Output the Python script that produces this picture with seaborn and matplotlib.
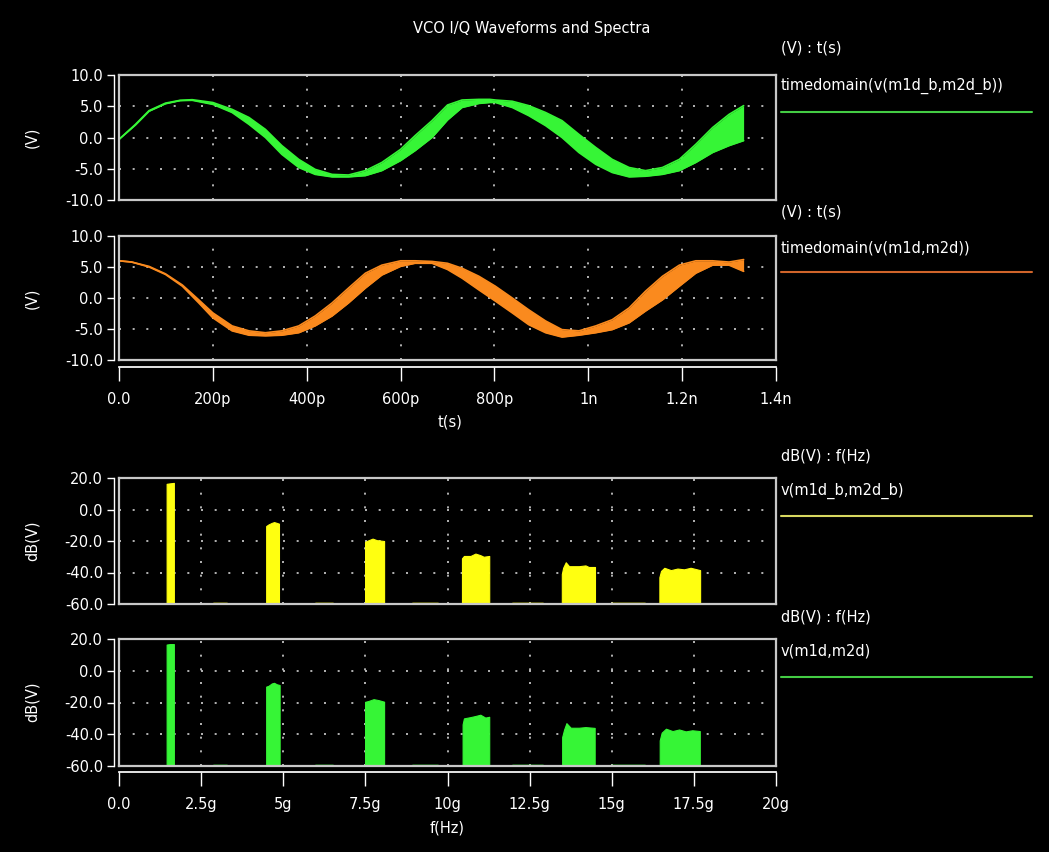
import numpy as np
import matplotlib
matplotlib.use("Agg")
import matplotlib.pyplot as plt
import seaborn as sns

# ---- time-domain traces (ps, V): upper / lower edge of the overlaid band ----
t_ps = [0, 35, 64, 99, 130, 156, 200, 241, 277, 312, 347, 383, 418, 454, 489,
        525, 560, 600, 631, 667, 700, 731, 767, 790, 802, 838, 873, 909, 944,
        980, 1016, 1051, 1087, 1122, 1158, 1194, 1229, 1265, 1300, 1331]
i_hi = [-0.3, 2.1, 4.3, 5.5, 5.95, 6.05, 5.6, 4.5, 3.2, 1.3, -1.3, -3.5, -5.1,
        -5.9, -6.0, -5.3, -4.0, -1.9, 0.3, 2.7, 5.2, 6.0, 6.1, 6.1, 6.0, 5.8,
        5.1, 4.0, 2.7, 0.5, -1.6, -3.5, -4.8, -5.3, -4.8, -3.5, -1.1, 1.6, 3.7, 5.1]
i_lo = [-0.3, 2.0, 4.2, 5.4, 5.9, 5.95, 5.3, 4.0, 2.1, 0.0, -2.7, -4.8, -5.9,
        -6.3, -6.3, -6.1, -5.3, -3.7, -2.1, 0.0, 2.8, 4.8, 5.45, 5.6, 5.6, 4.8,
        3.5, 1.9, 0.0, -2.4, -4.3, -5.6, -6.3, -6.2, -5.9, -5.3, -4.0, -2.4, -1.3, -0.5]

tq_ps = [0, 27, 64, 99, 135, 170, 200, 241, 277, 312, 347, 383, 418, 454, 489,
         525, 560, 600, 631, 667, 700, 731, 767, 802, 838, 873, 909, 944, 980,
         1016, 1051, 1087, 1122, 1158, 1194, 1229, 1265, 1300, 1331]
q_hi = [6.0, 5.8, 5.1, 3.9, 2.1, -0.3, -2.4, -4.5, -5.3, -5.6, -5.3, -4.5, -2.9,
        -0.8, 1.6, 4.0, 5.3, 6.0, 6.0, 5.9, 5.6, 4.8, 3.5, 1.9, 0.0, -1.9, -3.7,
        -5.1, -5.3, -4.5, -3.5, -1.6, 1.1, 3.5, 5.3, 6.0, 6.0, 5.8, 6.2]
q_lo = [6.0, 5.8, 5.0, 3.8, 1.9, -0.8, -3.2, -5.3, -6.0, -6.1, -6.0, -5.6, -4.5,
        -2.9, -0.8, 1.6, 3.7, 5.1, 5.6, 5.6, 4.6, 3.2, 1.3, -0.5, -2.4, -4.3, -5.6,
        -6.3, -6.0, -5.6, -5.1, -4.0, -2.1, -0.3, 1.9, 4.0, 5.3, 5.3, 4.3]

# ---- spectra (GHz, dB): one list per harmonic band ----
yel_f = [[1.45, 1.55, 1.67],
         [4.48, 4.55, 4.65, 4.72, 4.80, 4.87],
         [7.49, 7.60, 7.72, 7.85, 8.07],
         [10.44, 10.50, 10.70, 10.85, 11.00, 11.10, 11.27],
         [13.48, 13.52, 13.60, 13.70, 14.00, 14.20, 14.30, 14.49],
         [16.45, 16.50, 16.60, 16.80, 17.00, 17.20, 17.40, 17.69]]
yel_db = [[16.3, 16.6, 16.9],
          [-10.5, -9.5, -8.5, -8.0, -8.5, -9.0],
          [-20.5, -19.5, -18.5, -19.5, -20.0],
          [-31.0, -29.5, -29.5, -28.0, -29.0, -30.0, -29.5],
          [-41.0, -37.0, -33.5, -36.0, -36.0, -35.5, -36.5, -36.5],
          [-43.0, -39.0, -37.0, -38.5, -37.5, -38.0, -37.0, -38.5]]
grn_f = [[1.45, 1.55, 1.67],
         [4.48, 4.55, 4.65, 4.72, 4.80, 4.89],
         [7.49, 7.60, 7.75, 7.90, 8.07],
         [10.46, 10.50, 10.70, 10.85, 11.00, 11.15, 11.27],
         [13.49, 13.55, 13.62, 13.75, 14.00, 14.20, 14.48],
         [16.46, 16.52, 16.65, 16.85, 17.05, 17.25, 17.45, 17.68]]
grn_db = [[16.5, 16.8, 16.8],
          [-10.0, -9.5, -8.0, -7.6, -8.5, -9.0],
          [-19.6, -19.0, -17.9, -18.5, -19.5],
          [-33.8, -30.0, -29.2, -28.5, -27.7, -29.5, -29.0],
          [-41.8, -37.0, -33.0, -35.9, -35.9, -35.5, -36.0],
          [-43.9, -39.0, -36.5, -38.0, -37.0, -38.2, -37.5, -38.0]]
floor_f = [(2.9, 3.3), (6.0, 6.5), (8.95, 9.7), (12.0, 12.9), (15.0, 16.0)]

time_ticks = [0, 200, 400, 600, 800, 1000, 1200, 1400]
time_labels = ["0.0", "200p", "400p", "600p", "800p", "1n", "1.2n", "1.4n"]
freq_ticks = [0, 2.5, 5, 7.5, 10, 12.5, 15, 17.5, 20]
freq_labels = ["0.0", "2.5g", "5g", "7.5g", "10g", "12.5g", "15g", "17.5g", "20g"]
v_ticks = [-10, -5, 0, 5, 10]
db_ticks = [-60, -40, -20, 0, 20]

GREEN = "#36f536"
ORANGE = "#fa8a1e"
YELLOW = "#ffff10"
W, H = 1049, 852

sns.set_theme(style="dark", rc={"figure.facecolor": "black", "axes.facecolor": "black",
                                "text.color": "white", "savefig.facecolor": "black"})
plt.rcParams["font.family"] = ["DejaVu Sans"]
FS = 10.5

fig = plt.figure(figsize=(W / 100, H / 100), dpi=100)


def box(left, top, right, bottom):
    return [left / W, 1 - bottom / H, (right - left) / W, (bottom - top) / H]


def frame(ax, xlim, ylim, xgrid, ygrid, yticks, ylabels):
    ax.set_xlim(*xlim)
    ax.set_ylim(*ylim)
    ax.set_xticks(xgrid)
    ax.set_yticks(ygrid)
    ax.tick_params(length=0, labelbottom=False, labelleft=False)
    ax.grid(True, color="#d0d0d0", linestyle=(0, (1.2, 7)), linewidth=1.2)
    for s in ax.spines.values():
        s.set_visible(True)
        s.set_color("#c8c8c8")
        s.set_linewidth(1.6)
    sec = ax.secondary_yaxis(location=-5 / 657)
    sec.set_yticks(yticks, labels=ylabels)
    sec.tick_params(colors="white", length=5, width=1, labelsize=FS, pad=3)
    sec.spines["left"].set_color("white")
    sec.spines["left"].set_linewidth(1)


def band(ax, t, hi, lo, color):
    sns.lineplot(x=t, y=hi, ax=ax, color=color, lw=1.2, sort=False)
    sns.lineplot(x=t, y=lo, ax=ax, color=color, lw=1.2, sort=False)
    ax.fill_between(t, lo, hi, color=color, lw=0)


def spectrum(ax, fs, dbs, color):
    for f, db in zip(fs, dbs):
        ax.fill_between(f, db, -60, color=color, lw=0.8, edgecolor=color)
    for a, b in floor_f:
        sns.lineplot(x=[a, b], y=[-59.6, -59.6], ax=ax, color=color, lw=1.2, alpha=0.35)


v_lab = ["-10.0", "-5.0", "0.0", "5.0", "10.0"]
db_lab = ["-60.0", "-40.0", "-20.0", "0.0", "20.0"]

ax1 = fig.add_axes(box(119, 75, 776, 200))
band(ax1, t_ps, i_hi, i_lo, GREEN)
frame(ax1, (0, 1400), (-10, 10), time_ticks[1:-1], [-5, 0, 5], v_ticks, v_lab)

ax2 = fig.add_axes(box(119, 236, 776, 360))
band(ax2, tq_ps, q_hi, q_lo, ORANGE)
frame(ax2, (0, 1400), (-10, 10), time_ticks[1:-1], [-5, 0, 5], v_ticks, v_lab)
tx = ax2.secondary_xaxis(location=-7 / 124)
tx.set_xticks(time_ticks, labels=time_labels)
tx.tick_params(colors="white", length=10, width=1, labelsize=FS, pad=8)
tx.spines["bottom"].set_color("white")

ax3 = fig.add_axes(box(119, 478, 776, 604))
spectrum(ax3, yel_f, yel_db, YELLOW)
frame(ax3, (0, 20), (-60, 20), freq_ticks[1:-1], [-40, -20, 0], db_ticks, db_lab)

ax4 = fig.add_axes(box(119, 639, 776, 766))
spectrum(ax4, grn_f, grn_db, GREEN)
frame(ax4, (0, 20), (-60, 20), freq_ticks[1:-1], [-40, -20, 0], db_ticks, db_lab)
fx = ax4.secondary_xaxis(location=-6 / 127)
fx.set_xticks(freq_ticks, labels=freq_labels)
fx.tick_params(colors="white", length=10, width=1, labelsize=FS, pad=8)
fx.spines["bottom"].set_color("white")

# overlay in pixel coordinates for title, axis names and legends
ov = fig.add_axes([0, 0, 1, 1], zorder=-1)
ov.set_xlim(0, W)
ov.set_ylim(H, 0)
ov.axis("off")
ov.text(532, 28, "VCO I/Q Waveforms and Spectra", ha="center", va="center", fontsize=FS)
ov.text(450, 422, "t(s)", ha="center", va="center", fontsize=FS)
ov.text(447, 828, "f(Hz)", ha="center", va="center", fontsize=FS)
for yc, lab in [(137, "(V)"), (298, "(V)"), (541, "dB(V)"), (702, "dB(V)")]:
    ov.text(32, yc, lab, ha="center", va="center", rotation=90, fontsize=FS)

legend = [(48, "(V) : t(s)", 86, "timedomain(v(m1d_b,m2d_b))", 112, "#44cc44"),
          (212, "(V) : t(s)", 248, "timedomain(v(m1d,m2d))", 272, "#d0642a"),
          (456, "dB(V) : f(Hz)", 491, "v(m1d_b,m2d_b)", 516, "#d8d860"),
          (617, "dB(V) : f(Hz)", 651, "v(m1d,m2d)", 677, "#44cc44")]
for y1, head, y2, name, yl, col in legend:
    ov.text(781, y1, head, ha="left", va="center", fontsize=FS)
    ov.text(781, y2, name, ha="left", va="center", fontsize=FS)
    ov.plot([781, 1032], [yl, yl], color=col, lw=1.5)

fig.savefig("out.png", dpi=100, facecolor="black")
